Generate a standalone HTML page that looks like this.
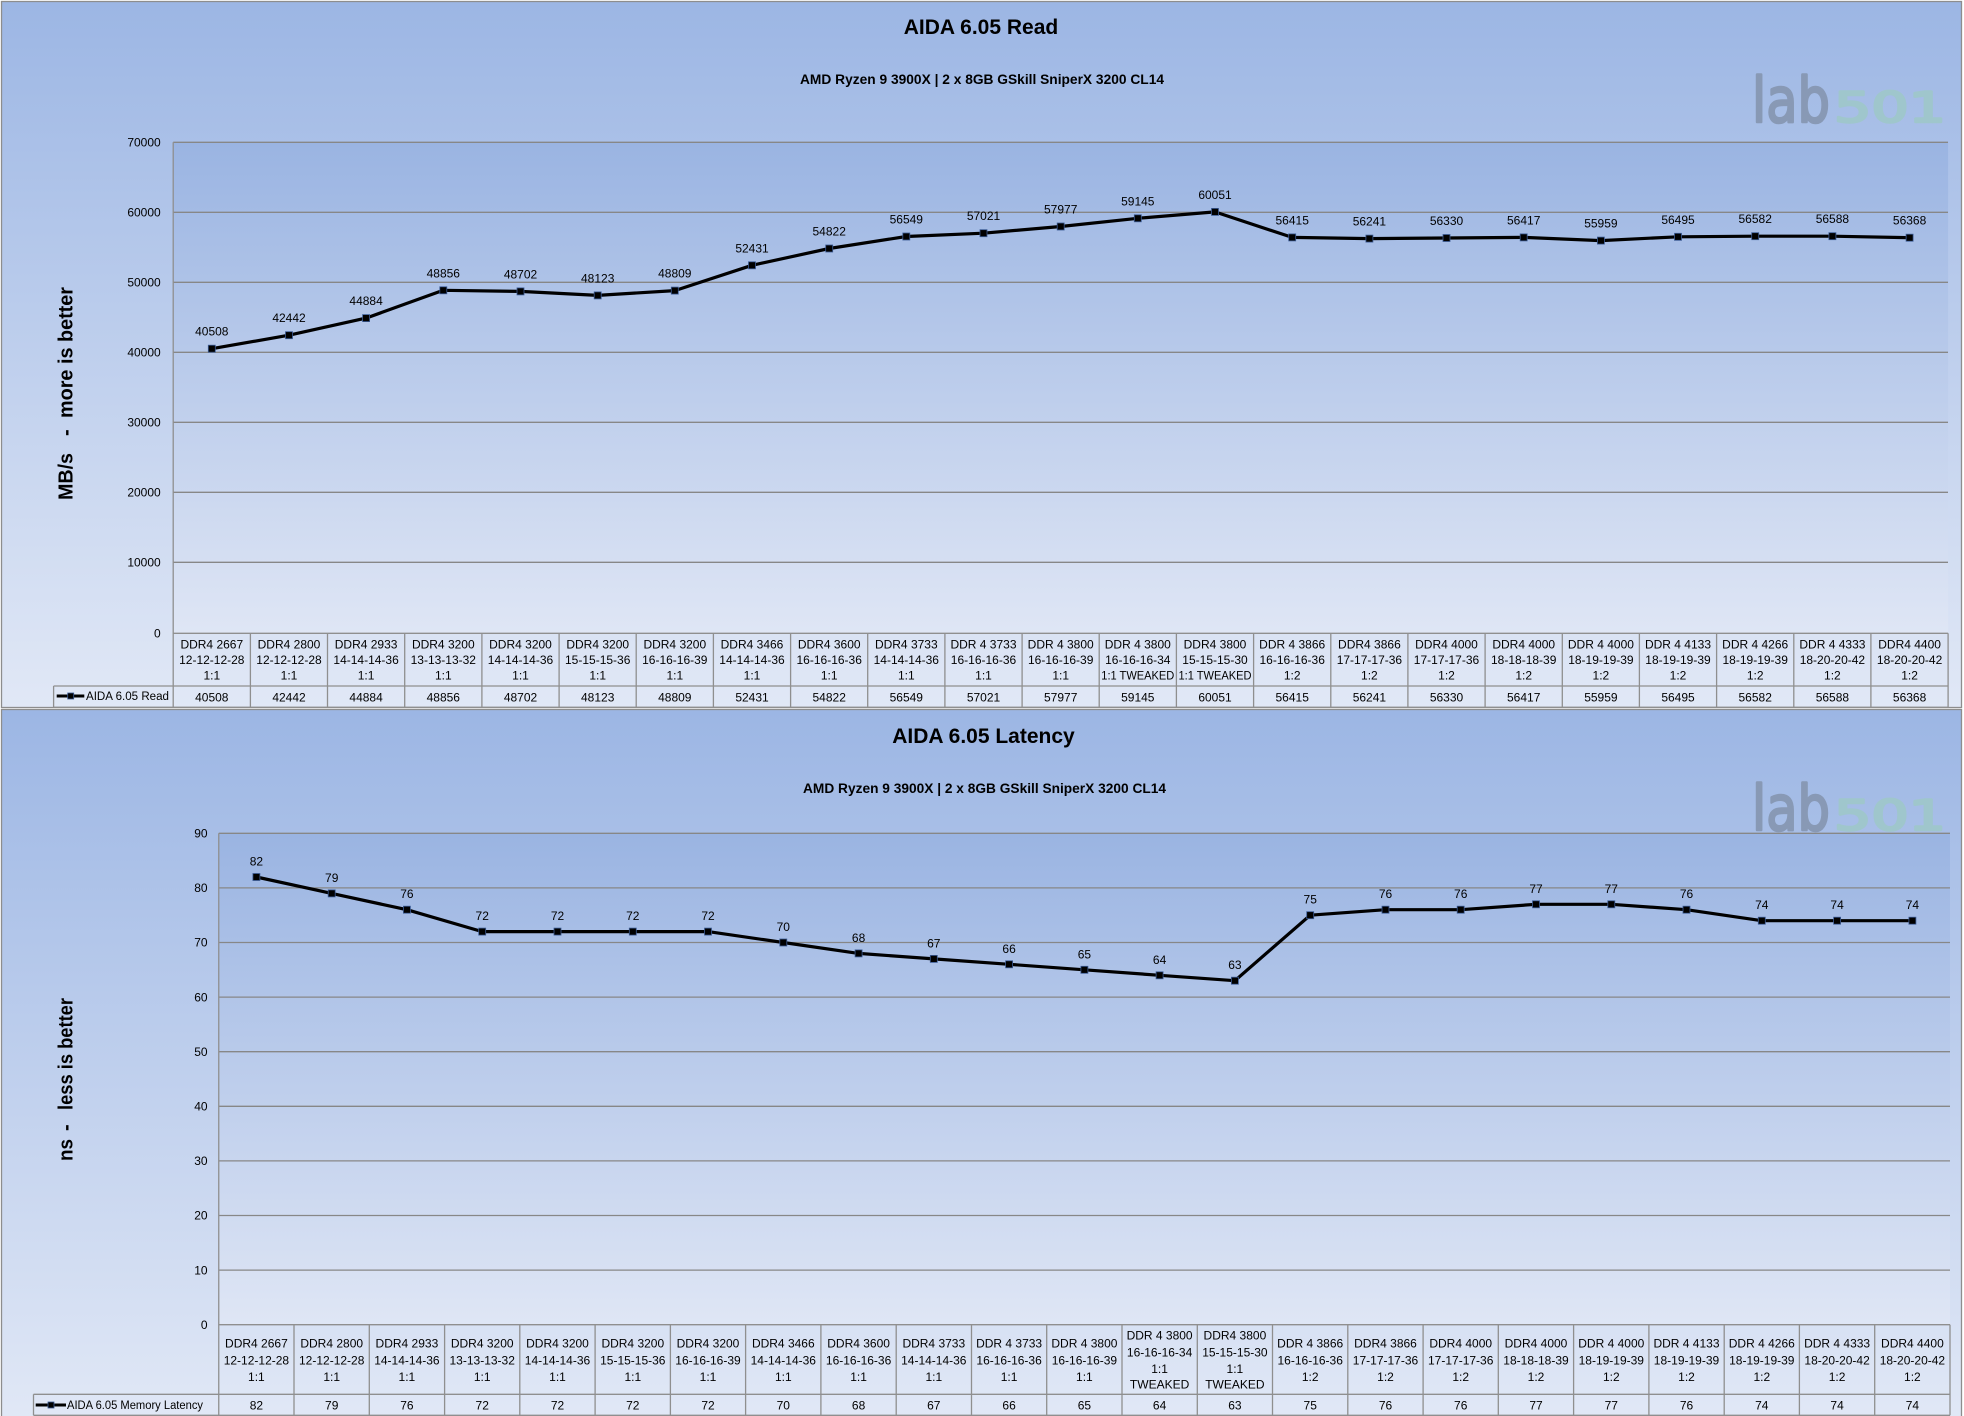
<!DOCTYPE html>
<html><head><meta charset="utf-8"><style>
html,body{margin:0;padding:0;background:#fff;}
svg{display:block;}
text{font-family:"Liberation Sans",sans-serif;fill:#000;}
.t{font-size:21px;font-weight:bold;text-anchor:middle;}
.st{font-size:13.5px;font-weight:bold;text-anchor:middle;}
.yl{font-size:12px;text-anchor:end;}
.dl{font-size:12px;text-anchor:middle;}
.c{font-size:12px;text-anchor:middle;}
.lg{font-size:11.5px;}
.ax{font-size:20px;font-weight:bold;}
.g{stroke:#878787;stroke-width:1.3;}
.tb{stroke:#8f8f8f;stroke-width:1.3;}
.m{fill:#000;stroke:#3b5b94;stroke-width:0.8;}
.ln{fill:none;stroke:#000;stroke-width:3.2;stroke-linejoin:round;}
.lab{font-family:"DejaVu Sans",sans-serif;fill:#8899b5;stroke:#8899b5;stroke-width:2.5;stroke-linejoin:round;}
.n501{font-family:"DejaVu Sans",sans-serif;fill:#9fc6cc;stroke:#9fc6cc;stroke-width:2.5;stroke-linejoin:round;}
</style></head><body>
<svg width="1964" height="1416" viewBox="0 0 1964 1416" xmlns="http://www.w3.org/2000/svg">
<defs>
<linearGradient id="o1" x1="0" y1="0" x2="0" y2="1"><stop offset="0" stop-color="#9cb6e4"/><stop offset="1" stop-color="#e1e8f6"/></linearGradient>
<linearGradient id="p1" x1="0" y1="0" x2="0" y2="1"><stop offset="0" stop-color="#9ab4e2"/><stop offset="1" stop-color="#dfe6f5"/></linearGradient>
</defs>

<!-- ============ CHART 1 ============ -->
<rect x="1.5" y="1.5" width="1960" height="706" fill="url(#o1)" stroke="#8d8d8d" stroke-width="1.3"/>
<rect x="173.2" y="142.3" width="1774.9" height="491" fill="url(#p1)"/>
<text class="t" x="981" y="34">AIDA 6.05 Read</text>
<text class="st" x="982" y="84" textLength="364" lengthAdjust="spacingAndGlyphs">AMD Ryzen 9 3900X | 2 x 8GB GSkill SniperX 3200 CL14</text>
<text class="lab" x="1752" y="122" font-size="62" textLength="78" lengthAdjust="spacingAndGlyphs">lab</text>
<text class="n501" x="1834" y="122" font-size="42" textLength="112" lengthAdjust="spacingAndGlyphs">501</text>

<!-- axis title -->
<text class="ax" transform="translate(72.7,500) rotate(-90)" textLength="47" lengthAdjust="spacingAndGlyphs">MB/s</text>
<text class="ax" transform="translate(72.7,436) rotate(-90)">-</text>
<text class="ax" transform="translate(72.7,418) rotate(-90)" textLength="131" lengthAdjust="spacingAndGlyphs">more is better</text>

<!-- gridlines -->
<line class="g" x1="173.2" y1="142.3" x2="1948" y2="142.3"/>
<line class="g" x1="173.2" y1="212.3" x2="1948" y2="212.3"/>
<line class="g" x1="173.2" y1="282.3" x2="1948" y2="282.3"/>
<line class="g" x1="173.2" y1="352.3" x2="1948" y2="352.3"/>
<line class="g" x1="173.2" y1="422.3" x2="1948" y2="422.3"/>
<line class="g" x1="173.2" y1="492.3" x2="1948" y2="492.3"/>
<line class="g" x1="173.2" y1="562.3" x2="1948" y2="562.3"/>

<!-- y labels -->
<text class="yl" x="160.7" y="146.5">70000</text>
<text class="yl" x="160.7" y="216.5">60000</text>
<text class="yl" x="160.7" y="286.5">50000</text>
<text class="yl" x="160.7" y="356.5">40000</text>
<text class="yl" x="160.7" y="426.5">30000</text>
<text class="yl" x="160.7" y="496.5">20000</text>
<text class="yl" x="160.7" y="566.5">10000</text>
<text class="yl" x="160.7" y="637.5">0</text>

<!-- table lines -->
<line class="tb" x1="173.2" y1="142.3" x2="173.2" y2="707.3"/>
<line class="tb" x1="173.2" y1="633.3" x2="1948.1" y2="633.3"/>
<line class="tb" x1="53.6" y1="686" x2="1948.1" y2="686"/>
<line class="tb" x1="53.6" y1="707.3" x2="1948.1" y2="707.3"/>
<line class="tb" x1="53.6" y1="686" x2="53.6" y2="707.3"/>
<g class="tb">
<line x1="250.4" y1="633.3" x2="250.4" y2="707.3"/><line x1="327.5" y1="633.3" x2="327.5" y2="707.3"/><line x1="404.7" y1="633.3" x2="404.7" y2="707.3"/><line x1="481.9" y1="633.3" x2="481.9" y2="707.3"/><line x1="559.1" y1="633.3" x2="559.1" y2="707.3"/><line x1="636.2" y1="633.3" x2="636.2" y2="707.3"/><line x1="713.4" y1="633.3" x2="713.4" y2="707.3"/><line x1="790.6" y1="633.3" x2="790.6" y2="707.3"/><line x1="867.7" y1="633.3" x2="867.7" y2="707.3"/><line x1="944.9" y1="633.3" x2="944.9" y2="707.3"/><line x1="1022.1" y1="633.3" x2="1022.1" y2="707.3"/><line x1="1099.2" y1="633.3" x2="1099.2" y2="707.3"/><line x1="1176.4" y1="633.3" x2="1176.4" y2="707.3"/><line x1="1253.6" y1="633.3" x2="1253.6" y2="707.3"/><line x1="1330.8" y1="633.3" x2="1330.8" y2="707.3"/><line x1="1407.9" y1="633.3" x2="1407.9" y2="707.3"/><line x1="1485.1" y1="633.3" x2="1485.1" y2="707.3"/><line x1="1562.3" y1="633.3" x2="1562.3" y2="707.3"/><line x1="1639.4" y1="633.3" x2="1639.4" y2="707.3"/><line x1="1716.6" y1="633.3" x2="1716.6" y2="707.3"/><line x1="1793.8" y1="633.3" x2="1793.8" y2="707.3"/><line x1="1870.9" y1="633.3" x2="1870.9" y2="707.3"/><line x1="1948.1" y1="633.3" x2="1948.1" y2="707.3"/>
</g>

<!-- series line -->
<polyline class="ln" points="211.8,348.7 289.0,335.2 366.1,318.1 443.3,290.3 520.5,291.4 597.7,295.4 674.8,290.6 752.0,265.3 829.2,248.5 906.3,236.5 983.5,233.2 1060.7,226.5 1137.8,218.3 1215.0,211.9 1292.2,237.4 1369.4,238.6 1446.5,238.0 1523.7,237.4 1600.9,240.6 1678.0,236.8 1755.2,236.2 1832.4,236.2 1909.6,237.7"/>
<g class="m">
<rect x="208.3" y="345.2" width="7" height="7"/><rect x="285.5" y="331.7" width="7" height="7"/><rect x="362.6" y="314.6" width="7" height="7"/><rect x="439.8" y="286.8" width="7" height="7"/><rect x="517.0" y="287.9" width="7" height="7"/><rect x="594.2" y="291.9" width="7" height="7"/><rect x="671.3" y="287.1" width="7" height="7"/><rect x="748.5" y="261.8" width="7" height="7"/><rect x="825.7" y="245.0" width="7" height="7"/><rect x="902.8" y="233.0" width="7" height="7"/><rect x="980.0" y="229.7" width="7" height="7"/><rect x="1057.2" y="223.0" width="7" height="7"/><rect x="1134.3" y="214.8" width="7" height="7"/><rect x="1211.5" y="208.4" width="7" height="7"/><rect x="1288.7" y="233.9" width="7" height="7"/><rect x="1365.9" y="235.1" width="7" height="7"/><rect x="1443.0" y="234.5" width="7" height="7"/><rect x="1520.2" y="233.9" width="7" height="7"/><rect x="1597.4" y="237.1" width="7" height="7"/><rect x="1674.5" y="233.3" width="7" height="7"/><rect x="1751.7" y="232.7" width="7" height="7"/><rect x="1828.9" y="232.7" width="7" height="7"/><rect x="1906.1" y="234.2" width="7" height="7"/>
</g>
<!-- data labels -->
<g>
<text class="dl" x="211.8" y="335.7">40508</text><text class="dl" x="289.0" y="322.2">42442</text><text class="dl" x="366.1" y="305.1">44884</text><text class="dl" x="443.3" y="277.3">48856</text><text class="dl" x="520.5" y="278.4">48702</text><text class="dl" x="597.7" y="282.4">48123</text><text class="dl" x="674.8" y="277.6">48809</text><text class="dl" x="752.0" y="252.3">52431</text><text class="dl" x="829.2" y="235.5">54822</text><text class="dl" x="906.3" y="223.5">56549</text><text class="dl" x="983.5" y="220.2">57021</text><text class="dl" x="1060.7" y="213.5">57977</text><text class="dl" x="1137.8" y="205.3">59145</text><text class="dl" x="1215.0" y="198.9">60051</text><text class="dl" x="1292.2" y="224.4">56415</text><text class="dl" x="1369.4" y="225.6">56241</text><text class="dl" x="1446.5" y="225.0">56330</text><text class="dl" x="1523.7" y="224.4">56417</text><text class="dl" x="1600.9" y="227.6">55959</text><text class="dl" x="1678.0" y="223.8">56495</text><text class="dl" x="1755.2" y="223.2">56582</text><text class="dl" x="1832.4" y="223.2">56588</text><text class="dl" x="1909.6" y="224.7">56368</text>
</g>

<!-- category labels chart 1 -->
<g>
<text class="c" x="211.8" y="648.3">DDR4 2667</text><text class="c" x="211.8" y="663.8">12-12-12-28</text><text class="c" x="211.8" y="679.3">1:1</text>
<text class="c" x="289.0" y="648.3">DDR4 2800</text><text class="c" x="289.0" y="663.8">12-12-12-28</text><text class="c" x="289.0" y="679.3">1:1</text>
<text class="c" x="366.1" y="648.3">DDR4 2933</text><text class="c" x="366.1" y="663.8">14-14-14-36</text><text class="c" x="366.1" y="679.3">1:1</text>
<text class="c" x="443.3" y="648.3">DDR4 3200</text><text class="c" x="443.3" y="663.8">13-13-13-32</text><text class="c" x="443.3" y="679.3">1:1</text>
<text class="c" x="520.5" y="648.3">DDR4 3200</text><text class="c" x="520.5" y="663.8">14-14-14-36</text><text class="c" x="520.5" y="679.3">1:1</text>
<text class="c" x="597.7" y="648.3">DDR4 3200</text><text class="c" x="597.7" y="663.8">15-15-15-36</text><text class="c" x="597.7" y="679.3">1:1</text>
<text class="c" x="674.8" y="648.3">DDR4 3200</text><text class="c" x="674.8" y="663.8">16-16-16-39</text><text class="c" x="674.8" y="679.3">1:1</text>
<text class="c" x="752.0" y="648.3">DDR4 3466</text><text class="c" x="752.0" y="663.8">14-14-14-36</text><text class="c" x="752.0" y="679.3">1:1</text>
<text class="c" x="829.2" y="648.3">DDR4 3600</text><text class="c" x="829.2" y="663.8">16-16-16-36</text><text class="c" x="829.2" y="679.3">1:1</text>
<text class="c" x="906.3" y="648.3">DDR4 3733</text><text class="c" x="906.3" y="663.8">14-14-14-36</text><text class="c" x="906.3" y="679.3">1:1</text>
<text class="c" x="983.5" y="648.3">DDR 4 3733</text><text class="c" x="983.5" y="663.8">16-16-16-36</text><text class="c" x="983.5" y="679.3">1:1</text>
<text class="c" x="1060.7" y="648.3">DDR 4 3800</text><text class="c" x="1060.7" y="663.8">16-16-16-39</text><text class="c" x="1060.7" y="679.3">1:1</text>
<text class="c" x="1137.8" y="648.3">DDR 4 3800</text><text class="c" x="1137.8" y="663.8">16-16-16-34</text><text class="c" x="1137.8" y="679.3" textLength="73" lengthAdjust="spacingAndGlyphs">1:1 TWEAKED</text>
<text class="c" x="1215.0" y="648.3">DDR4 3800</text><text class="c" x="1215.0" y="663.8">15-15-15-30</text><text class="c" x="1215.0" y="679.3" textLength="73" lengthAdjust="spacingAndGlyphs">1:1 TWEAKED</text>
<text class="c" x="1292.2" y="648.3">DDR 4 3866</text><text class="c" x="1292.2" y="663.8">16-16-16-36</text><text class="c" x="1292.2" y="679.3">1:2</text>
<text class="c" x="1369.4" y="648.3">DDR4 3866</text><text class="c" x="1369.4" y="663.8">17-17-17-36</text><text class="c" x="1369.4" y="679.3">1:2</text>
<text class="c" x="1446.5" y="648.3">DDR4 4000</text><text class="c" x="1446.5" y="663.8">17-17-17-36</text><text class="c" x="1446.5" y="679.3">1:2</text>
<text class="c" x="1523.7" y="648.3">DDR4 4000</text><text class="c" x="1523.7" y="663.8">18-18-18-39</text><text class="c" x="1523.7" y="679.3">1:2</text>
<text class="c" x="1600.9" y="648.3">DDR 4 4000</text><text class="c" x="1600.9" y="663.8">18-19-19-39</text><text class="c" x="1600.9" y="679.3">1:2</text>
<text class="c" x="1678.0" y="648.3">DDR 4 4133</text><text class="c" x="1678.0" y="663.8">18-19-19-39</text><text class="c" x="1678.0" y="679.3">1:2</text>
<text class="c" x="1755.2" y="648.3">DDR 4 4266</text><text class="c" x="1755.2" y="663.8">18-19-19-39</text><text class="c" x="1755.2" y="679.3">1:2</text>
<text class="c" x="1832.4" y="648.3">DDR 4 4333</text><text class="c" x="1832.4" y="663.8">18-20-20-42</text><text class="c" x="1832.4" y="679.3">1:2</text>
<text class="c" x="1909.6" y="648.3">DDR4 4400</text><text class="c" x="1909.6" y="663.8">18-20-20-42</text><text class="c" x="1909.6" y="679.3">1:2</text>
</g>
<!-- data row chart 1 -->
<g>
<text class="c" x="211.8" y="701.3">40508</text><text class="c" x="289.0" y="701.3">42442</text><text class="c" x="366.1" y="701.3">44884</text><text class="c" x="443.3" y="701.3">48856</text><text class="c" x="520.5" y="701.3">48702</text><text class="c" x="597.7" y="701.3">48123</text><text class="c" x="674.8" y="701.3">48809</text><text class="c" x="752.0" y="701.3">52431</text><text class="c" x="829.2" y="701.3">54822</text><text class="c" x="906.3" y="701.3">56549</text><text class="c" x="983.5" y="701.3">57021</text><text class="c" x="1060.7" y="701.3">57977</text><text class="c" x="1137.8" y="701.3">59145</text><text class="c" x="1215.0" y="701.3">60051</text><text class="c" x="1292.2" y="701.3">56415</text><text class="c" x="1369.4" y="701.3">56241</text><text class="c" x="1446.5" y="701.3">56330</text><text class="c" x="1523.7" y="701.3">56417</text><text class="c" x="1600.9" y="701.3">55959</text><text class="c" x="1678.0" y="701.3">56495</text><text class="c" x="1755.2" y="701.3">56582</text><text class="c" x="1832.4" y="701.3">56588</text><text class="c" x="1909.6" y="701.3">56368</text>
</g>
<!-- legend chart 1 -->
<line x1="56.7" y1="696" x2="84.3" y2="696" stroke="#000" stroke-width="3"/>
<rect class="m" x="67.7" y="693" width="6" height="6"/>
<text class="lg" x="86" y="700" textLength="83" lengthAdjust="spacingAndGlyphs">AIDA 6.05 Read</text>

<!-- ============ CHART 2 ============ -->
<rect x="1.5" y="709.5" width="1960" height="712" fill="url(#o1)" stroke="#8d8d8d" stroke-width="1.3"/>
<rect x="218.75" y="833.3" width="1731.25" height="491.4" fill="url(#p1)"/>
<text class="t" x="983.5" y="743">AIDA 6.05 Latency</text>
<text class="st" x="984.5" y="793" textLength="363" lengthAdjust="spacingAndGlyphs">AMD Ryzen 9 3900X | 2 x 8GB GSkill SniperX 3200 CL14</text>
<text class="lab" x="1752" y="830" font-size="62" textLength="78" lengthAdjust="spacingAndGlyphs">lab</text>
<text class="n501" x="1834" y="830" font-size="42" textLength="112" lengthAdjust="spacingAndGlyphs">501</text>

<text class="ax" transform="translate(72.7,1161) rotate(-90)" textLength="22" lengthAdjust="spacingAndGlyphs">ns</text>
<text class="ax" transform="translate(72.7,1131) rotate(-90)">-</text>
<text class="ax" transform="translate(72.7,1110) rotate(-90)" textLength="112" lengthAdjust="spacingAndGlyphs">less is better</text>

<g class="g">
<line x1="218.75" y1="833.3" x2="1950" y2="833.3"/>
<line x1="218.75" y1="887.9" x2="1950" y2="887.9"/>
<line x1="218.75" y1="942.5" x2="1950" y2="942.5"/>
<line x1="218.75" y1="997.1" x2="1950" y2="997.1"/>
<line x1="218.75" y1="1051.7" x2="1950" y2="1051.7"/>
<line x1="218.75" y1="1106.3" x2="1950" y2="1106.3"/>
<line x1="218.75" y1="1160.9" x2="1950" y2="1160.9"/>
<line x1="218.75" y1="1215.5" x2="1950" y2="1215.5"/>
<line x1="218.75" y1="1270.1" x2="1950" y2="1270.1"/>
</g>
<text class="yl" x="207.6" y="837.5">90</text>
<text class="yl" x="207.6" y="892.1">80</text>
<text class="yl" x="207.6" y="946.7">70</text>
<text class="yl" x="207.6" y="1001.3">60</text>
<text class="yl" x="207.6" y="1055.9">50</text>
<text class="yl" x="207.6" y="1110.5">40</text>
<text class="yl" x="207.6" y="1165.1">30</text>
<text class="yl" x="207.6" y="1219.7">20</text>
<text class="yl" x="207.6" y="1274.3">10</text>
<text class="yl" x="207.6" y="1329.2">0</text>

<line class="tb" x1="218.75" y1="833.3" x2="218.75" y2="1415.3"/>
<line class="tb" x1="218.75" y1="1324.7" x2="1950" y2="1324.7"/>
<line class="tb" x1="33.5" y1="1394.3" x2="1950" y2="1394.3"/>
<line class="tb" x1="33.5" y1="1415.3" x2="1950" y2="1415.3"/>
<line class="tb" x1="33.5" y1="1394.3" x2="33.5" y2="1415.3"/>
<g class="tb">
<line x1="294.0" y1="1324.7" x2="294.0" y2="1415.3"/><line x1="369.3" y1="1324.7" x2="369.3" y2="1415.3"/><line x1="444.6" y1="1324.7" x2="444.6" y2="1415.3"/><line x1="519.8" y1="1324.7" x2="519.8" y2="1415.3"/><line x1="595.1" y1="1324.7" x2="595.1" y2="1415.3"/><line x1="670.4" y1="1324.7" x2="670.4" y2="1415.3"/><line x1="745.6" y1="1324.7" x2="745.6" y2="1415.3"/><line x1="820.9" y1="1324.7" x2="820.9" y2="1415.3"/><line x1="896.2" y1="1324.7" x2="896.2" y2="1415.3"/><line x1="971.5" y1="1324.7" x2="971.5" y2="1415.3"/><line x1="1046.7" y1="1324.7" x2="1046.7" y2="1415.3"/><line x1="1122.0" y1="1324.7" x2="1122.0" y2="1415.3"/><line x1="1197.3" y1="1324.7" x2="1197.3" y2="1415.3"/><line x1="1272.5" y1="1324.7" x2="1272.5" y2="1415.3"/><line x1="1347.8" y1="1324.7" x2="1347.8" y2="1415.3"/><line x1="1423.1" y1="1324.7" x2="1423.1" y2="1415.3"/><line x1="1498.3" y1="1324.7" x2="1498.3" y2="1415.3"/><line x1="1573.6" y1="1324.7" x2="1573.6" y2="1415.3"/><line x1="1648.9" y1="1324.7" x2="1648.9" y2="1415.3"/><line x1="1724.2" y1="1324.7" x2="1724.2" y2="1415.3"/><line x1="1799.4" y1="1324.7" x2="1799.4" y2="1415.3"/><line x1="1874.7" y1="1324.7" x2="1874.7" y2="1415.3"/><line x1="1950.0" y1="1324.7" x2="1950.0" y2="1415.3"/>
</g>

<polyline class="ln" points="256.4,877.0 331.7,893.4 406.9,909.7 482.2,931.6 557.5,931.6 632.8,931.6 708.0,931.6 783.3,942.5 858.6,953.4 933.8,958.9 1009.1,964.3 1084.4,969.8 1159.6,975.3 1234.9,980.7 1310.2,915.2 1385.5,909.7 1460.7,909.7 1536.0,904.3 1611.3,904.3 1686.5,909.7 1761.8,920.7 1837.1,920.7 1912.4,920.7"/>
<g class="m">
<rect x="252.9" y="873.5" width="7" height="7"/><rect x="328.2" y="889.9" width="7" height="7"/><rect x="403.4" y="906.2" width="7" height="7"/><rect x="478.7" y="928.1" width="7" height="7"/><rect x="554.0" y="928.1" width="7" height="7"/><rect x="629.3" y="928.1" width="7" height="7"/><rect x="704.5" y="928.1" width="7" height="7"/><rect x="779.8" y="939.0" width="7" height="7"/><rect x="855.1" y="949.9" width="7" height="7"/><rect x="930.3" y="955.4" width="7" height="7"/><rect x="1005.6" y="960.8" width="7" height="7"/><rect x="1080.9" y="966.3" width="7" height="7"/><rect x="1156.1" y="971.8" width="7" height="7"/><rect x="1231.4" y="977.2" width="7" height="7"/><rect x="1306.7" y="911.7" width="7" height="7"/><rect x="1382.0" y="906.2" width="7" height="7"/><rect x="1457.2" y="906.2" width="7" height="7"/><rect x="1532.5" y="900.8" width="7" height="7"/><rect x="1607.8" y="900.8" width="7" height="7"/><rect x="1683.0" y="906.2" width="7" height="7"/><rect x="1758.3" y="917.2" width="7" height="7"/><rect x="1833.6" y="917.2" width="7" height="7"/><rect x="1908.9" y="917.2" width="7" height="7"/>
</g>
<g>
<text class="dl" x="256.4" y="865.5">82</text><text class="dl" x="331.7" y="881.9">79</text><text class="dl" x="406.9" y="898.2">76</text><text class="dl" x="482.2" y="920.1">72</text><text class="dl" x="557.5" y="920.1">72</text><text class="dl" x="632.8" y="920.1">72</text><text class="dl" x="708.0" y="920.1">72</text><text class="dl" x="783.3" y="931.0">70</text><text class="dl" x="858.6" y="941.9">68</text><text class="dl" x="933.8" y="947.4">67</text><text class="dl" x="1009.1" y="952.8">66</text><text class="dl" x="1084.4" y="958.3">65</text><text class="dl" x="1159.6" y="963.8">64</text><text class="dl" x="1234.9" y="969.2">63</text><text class="dl" x="1310.2" y="903.7">75</text><text class="dl" x="1385.5" y="898.2">76</text><text class="dl" x="1460.7" y="898.2">76</text><text class="dl" x="1536.0" y="892.8">77</text><text class="dl" x="1611.3" y="892.8">77</text><text class="dl" x="1686.5" y="898.2">76</text><text class="dl" x="1761.8" y="909.2">74</text><text class="dl" x="1837.1" y="909.2">74</text><text class="dl" x="1912.4" y="909.2">74</text>
</g>

<g>
<text class="c" x="256.4" y="1347.6">DDR4 2667</text><text class="c" x="256.4" y="1364.6">12-12-12-28</text><text class="c" x="256.4" y="1381">1:1</text>
<text class="c" x="331.7" y="1347.6">DDR4 2800</text><text class="c" x="331.7" y="1364.6">12-12-12-28</text><text class="c" x="331.7" y="1381">1:1</text>
<text class="c" x="406.9" y="1347.6">DDR4 2933</text><text class="c" x="406.9" y="1364.6">14-14-14-36</text><text class="c" x="406.9" y="1381">1:1</text>
<text class="c" x="482.2" y="1347.6">DDR4 3200</text><text class="c" x="482.2" y="1364.6">13-13-13-32</text><text class="c" x="482.2" y="1381">1:1</text>
<text class="c" x="557.5" y="1347.6">DDR4 3200</text><text class="c" x="557.5" y="1364.6">14-14-14-36</text><text class="c" x="557.5" y="1381">1:1</text>
<text class="c" x="632.8" y="1347.6">DDR4 3200</text><text class="c" x="632.8" y="1364.6">15-15-15-36</text><text class="c" x="632.8" y="1381">1:1</text>
<text class="c" x="708.0" y="1347.6">DDR4 3200</text><text class="c" x="708.0" y="1364.6">16-16-16-39</text><text class="c" x="708.0" y="1381">1:1</text>
<text class="c" x="783.3" y="1347.6">DDR4 3466</text><text class="c" x="783.3" y="1364.6">14-14-14-36</text><text class="c" x="783.3" y="1381">1:1</text>
<text class="c" x="858.6" y="1347.6">DDR4 3600</text><text class="c" x="858.6" y="1364.6">16-16-16-36</text><text class="c" x="858.6" y="1381">1:1</text>
<text class="c" x="933.8" y="1347.6">DDR4 3733</text><text class="c" x="933.8" y="1364.6">14-14-14-36</text><text class="c" x="933.8" y="1381">1:1</text>
<text class="c" x="1009.1" y="1347.6">DDR 4 3733</text><text class="c" x="1009.1" y="1364.6">16-16-16-36</text><text class="c" x="1009.1" y="1381">1:1</text>
<text class="c" x="1084.4" y="1347.6">DDR 4 3800</text><text class="c" x="1084.4" y="1364.6">16-16-16-39</text><text class="c" x="1084.4" y="1381">1:1</text>
<text class="c" x="1159.6" y="1339.3">DDR 4 3800</text><text class="c" x="1159.6" y="1356.3">16-16-16-34</text><text class="c" x="1159.6" y="1373">1:1</text><text class="c" x="1159.6" y="1388.6">TWEAKED</text>
<text class="c" x="1234.9" y="1339.3">DDR4 3800</text><text class="c" x="1234.9" y="1356.3">15-15-15-30</text><text class="c" x="1234.9" y="1373">1:1</text><text class="c" x="1234.9" y="1388.6">TWEAKED</text>
<text class="c" x="1310.2" y="1347.6">DDR 4 3866</text><text class="c" x="1310.2" y="1364.6">16-16-16-36</text><text class="c" x="1310.2" y="1381">1:2</text>
<text class="c" x="1385.5" y="1347.6">DDR4 3866</text><text class="c" x="1385.5" y="1364.6">17-17-17-36</text><text class="c" x="1385.5" y="1381">1:2</text>
<text class="c" x="1460.7" y="1347.6">DDR4 4000</text><text class="c" x="1460.7" y="1364.6">17-17-17-36</text><text class="c" x="1460.7" y="1381">1:2</text>
<text class="c" x="1536.0" y="1347.6">DDR4 4000</text><text class="c" x="1536.0" y="1364.6">18-18-18-39</text><text class="c" x="1536.0" y="1381">1:2</text>
<text class="c" x="1611.3" y="1347.6">DDR 4 4000</text><text class="c" x="1611.3" y="1364.6">18-19-19-39</text><text class="c" x="1611.3" y="1381">1:2</text>
<text class="c" x="1686.5" y="1347.6">DDR 4 4133</text><text class="c" x="1686.5" y="1364.6">18-19-19-39</text><text class="c" x="1686.5" y="1381">1:2</text>
<text class="c" x="1761.8" y="1347.6">DDR 4 4266</text><text class="c" x="1761.8" y="1364.6">18-19-19-39</text><text class="c" x="1761.8" y="1381">1:2</text>
<text class="c" x="1837.1" y="1347.6">DDR 4 4333</text><text class="c" x="1837.1" y="1364.6">18-20-20-42</text><text class="c" x="1837.1" y="1381">1:2</text>
<text class="c" x="1912.4" y="1347.6">DDR4 4400</text><text class="c" x="1912.4" y="1364.6">18-20-20-42</text><text class="c" x="1912.4" y="1381">1:2</text>
</g>
<g>
<text class="c" x="256.4" y="1409.3">82</text><text class="c" x="331.7" y="1409.3">79</text><text class="c" x="406.9" y="1409.3">76</text><text class="c" x="482.2" y="1409.3">72</text><text class="c" x="557.5" y="1409.3">72</text><text class="c" x="632.8" y="1409.3">72</text><text class="c" x="708.0" y="1409.3">72</text><text class="c" x="783.3" y="1409.3">70</text><text class="c" x="858.6" y="1409.3">68</text><text class="c" x="933.8" y="1409.3">67</text><text class="c" x="1009.1" y="1409.3">66</text><text class="c" x="1084.4" y="1409.3">65</text><text class="c" x="1159.6" y="1409.3">64</text><text class="c" x="1234.9" y="1409.3">63</text><text class="c" x="1310.2" y="1409.3">75</text><text class="c" x="1385.5" y="1409.3">76</text><text class="c" x="1460.7" y="1409.3">76</text><text class="c" x="1536.0" y="1409.3">77</text><text class="c" x="1611.3" y="1409.3">77</text><text class="c" x="1686.5" y="1409.3">76</text><text class="c" x="1761.8" y="1409.3">74</text><text class="c" x="1837.1" y="1409.3">74</text><text class="c" x="1912.4" y="1409.3">74</text>
</g>
<line x1="35.7" y1="1405" x2="66" y2="1405" stroke="#000" stroke-width="3"/>
<rect class="m" x="48" y="1402" width="6" height="6"/>
<text class="lg" x="67" y="1409" textLength="136" lengthAdjust="spacingAndGlyphs">AIDA 6.05 Memory Latency</text>
</svg>
</body></html>
